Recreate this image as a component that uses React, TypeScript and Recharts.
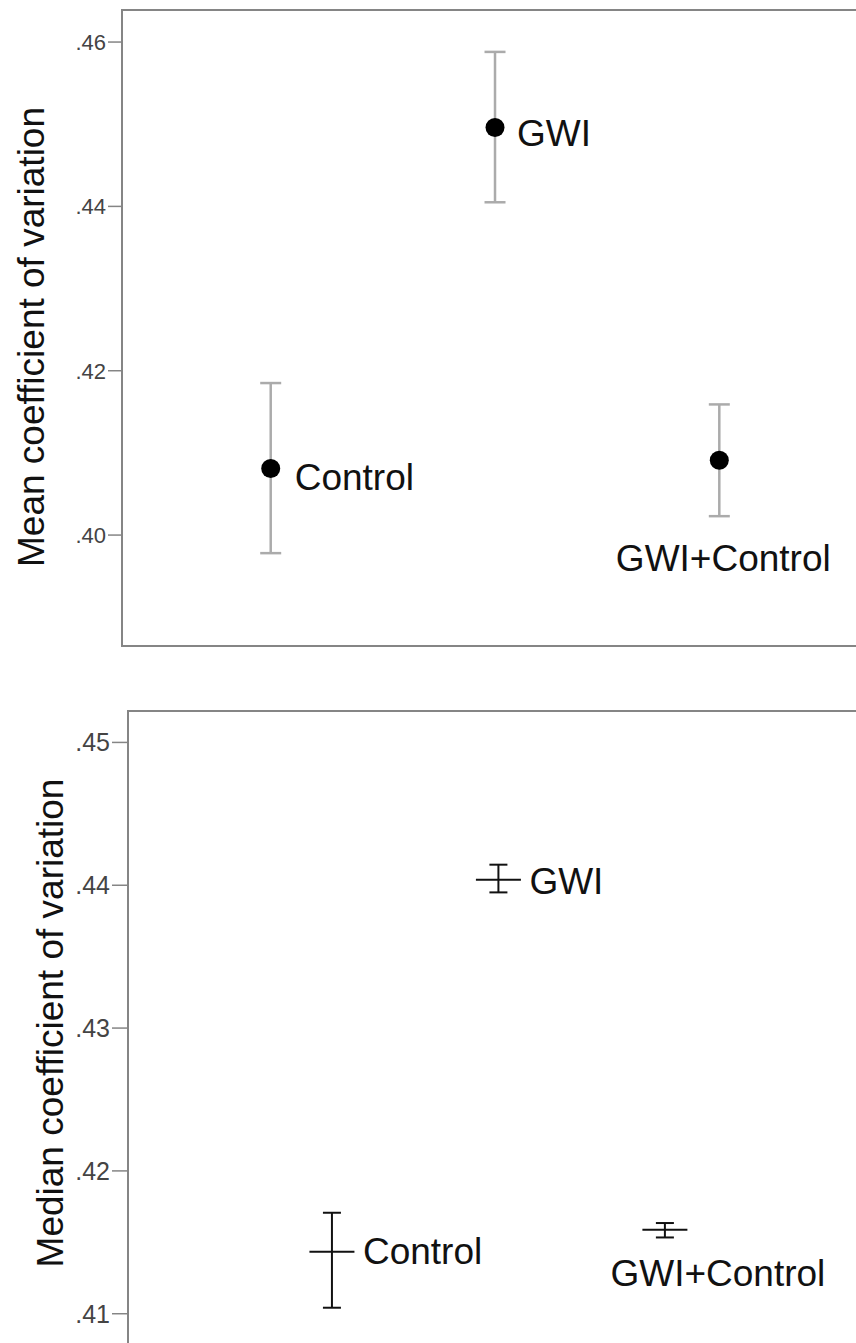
import React from "react";
import { ScatterChart, Scatter, XAxis, YAxis, ErrorBar, ReferenceArea } from "recharts";

const CATEGORIES = ["Control", "GWI", "GWI+Control"];

// mean CV with error bar ends
const MEAN_CV = [0.4081, 0.4496, 0.4091];
const MEAN_CV_LOW = [0.3978, 0.4405, 0.4023];
const MEAN_CV_HIGH = [0.4185, 0.4588, 0.4159];

// median CV with error bar ends
const MEDIAN_CV = [0.41434, 0.44039, 0.41588];
const MEDIAN_CV_LOW = [0.41042, 0.4395, 0.41534];
const MEDIAN_CV_HIGH = [0.41707, 0.44144, 0.41635];

const MEAN_TICKS = [0.4, 0.42, 0.44, 0.46];
const MEDIAN_TICKS = [0.41, 0.42, 0.43, 0.44, 0.45];

const FONT = '"Liberation Sans", Arial, sans-serif';
const FRAME = "#858585";

type Place = { dx: number; dy: number; anchor: "start" | "middle" };

const MEAN_LABELS: Record<string, Place> = {
  Control: { dx: 24, dy: 9, anchor: "start" },
  GWI: { dx: 22, dy: 6, anchor: "start" },
  "GWI+Control": { dx: 4, dy: 98, anchor: "middle" },
};

const MEDIAN_LABELS: Record<string, Place> = {
  Control: { dx: 31, dy: 0, anchor: "start" },
  GWI: { dx: 31, dy: 2, anchor: "start" },
  "GWI+Control": { dx: 53, dy: 44, anchor: "middle" },
};

function makeRows(vals: number[], lows: number[], highs: number[]) {
  return CATEGORIES.map((name, i) => ({
    name,
    x: i + 1,
    y: vals[i],
    err: [vals[i] - lows[i], highs[i] - vals[i]],
  }));
}

const fmt = (v: number) => v.toFixed(2).slice(1);

type PanelProps = {
  rows: ReturnType<typeof makeRows>;
  ticks: number[];
  yDomain: [number, number];
  xDomain: [number, number];
  title: string;
  titleX: number;
  titleY: number;
  height: number;
  margin: { top: number; right: number; bottom: number; left: number };
  axisWidth: number;
  tickFont: number;
  tickSize: number;
  labels: Record<string, Place>;
  kind: "dot" | "bar";
};

function Panel(p: PanelProps) {
  const shape = (props: any) => {
    const { cx, cy, payload } = props;
    const pl = p.labels[payload.name];
    return (
      <g>
        {p.kind === "dot" ? (
          <circle cx={cx} cy={cy} r={9.5} fill="#000" />
        ) : (
          <line x1={cx - 22.5} x2={cx + 22.5} y1={cy} y2={cy} stroke="#111" strokeWidth={2} />
        )}
        <text
          x={cx + pl.dx}
          y={cy + pl.dy}
          textAnchor={pl.anchor}
          dominantBaseline="central"
          fontFamily={FONT}
          fontSize={37}
          fill="#111"
        >
          {payload.name}
        </text>
      </g>
    );
  };

  return (
    <ScatterChart width={880} height={p.height} margin={p.margin}>
      <XAxis type="number" dataKey="x" domain={p.xDomain} allowDataOverflow hide />
      <YAxis
        type="number"
        dataKey="y"
        width={p.axisWidth}
        domain={p.yDomain}
        allowDataOverflow
        ticks={p.ticks}
        tickFormatter={fmt}
        axisLine={false}
        tickLine={{ stroke: FRAME, strokeWidth: 1.5 }}
        tickSize={p.tickSize}
        tickMargin={2}
        tick={{ fontFamily: FONT, fontSize: p.tickFont, fill: "#444" }}
        label={{
          content: () => (
            <text
              x={p.titleX}
              y={p.titleY}
              transform={`rotate(-90 ${p.titleX} ${p.titleY})`}
              textAnchor="middle"
              dominantBaseline="central"
              fontFamily={FONT}
              fontSize={37}
              fill="#111"
            >
              {p.title}
            </text>
          ),
        }}
      />
      <ReferenceArea
        x1={p.xDomain[0]}
        x2={p.xDomain[1]}
        y1={p.yDomain[0]}
        y2={p.yDomain[1]}
        fill="none"
        stroke={FRAME}
        strokeWidth={2}
        ifOverflow="visible"
      />
      <Scatter data={p.rows} dataKey="y" shape={shape} isAnimationActive={false}>
        <ErrorBar
          dataKey="err"
          direction="y"
          width={p.kind === "dot" ? 10.5 : 9}
          stroke={p.kind === "dot" ? "#ababab" : "#111"}
          strokeWidth={p.kind === "dot" ? 2.5 : 2}
          isAnimationActive={false}
        />
      </Scatter>
    </ScatterChart>
  );
}

export default function App() {
  const meanRows = makeRows(MEAN_CV, MEAN_CV_LOW, MEAN_CV_HIGH);
  const medianRows = makeRows(MEDIAN_CV, MEDIAN_CV_LOW, MEDIAN_CV_HIGH);

  return (
    <div
      style={{
        position: "absolute",
        left: 0,
        top: 0,
        width: 856,
        height: 1343,
        overflow: "hidden",
        background: "#fff",
      }}
    >
      <div style={{ position: "absolute", left: 0, top: 0 }}>
        <Panel
          rows={meanRows}
          ticks={MEAN_TICKS}
          yDomain={[0.3865, 0.4639]}
          xDomain={[0.337, 3.654]}
          title="Mean coefficient of variation"
          titleX={31}
          titleY={337}
          height={680}
          margin={{ top: 10, right: 14, bottom: 34, left: 0 }}
          axisWidth={122}
          tickFont={22}
          tickSize={14}
          labels={MEAN_LABELS}
          kind="dot"
        />
      </div>
      <div style={{ position: "absolute", left: 0, top: 680 }}>
        <Panel
          rows={medianRows}
          ticks={MEDIAN_TICKS}
          yDomain={[0.4055, 0.4522]}
          xDomain={[-0.225, 4.232]}
          title="Median coefficient of variation"
          titleX={50}
          titleY={343}
          height={720}
          margin={{ top: 31, right: 10, bottom: 22, left: 0 }}
          axisWidth={128}
          tickFont={25}
          tickSize={16}
          labels={MEDIAN_LABELS}
          kind="bar"
        />
      </div>
    </div>
  );
}
